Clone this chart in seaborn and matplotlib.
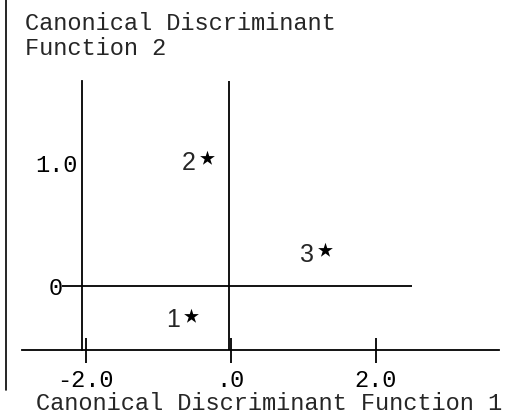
import matplotlib
matplotlib.use("Agg")
import matplotlib.pyplot as plt
from matplotlib.lines import Line2D
import pandas as pd
import seaborn as sns

# group centroids on the two canonical discriminant functions
groups = ['1', '2', '3']
func1 = [-0.55, -0.33, 1.30]
func2 = [-0.24, 1.04, 0.29]

# territorial boundary lines
y_axis_at = -2.05
vline_x = -0.02
zero_line = [-2.32, 2.50]

xticks = [-2.0, 0.0, 2.0]
xtick_labels = ['-2.0', '.0', '2.0']
yticks = [0.0, 1.0]
ytick_labels = ['0', '1.0']

df = pd.DataFrame({'Group': groups, 'Function 1': func1, 'Function 2': func2})

sns.set_style('white')
plt.rcParams['font.family'] = ['Liberation Mono', 'DejaVu Sans Mono']
plt.rcParams['axes.unicode_minus'] = False

fig = plt.figure(figsize=(5.13, 4.19), dpi=100)
ax = fig.add_axes([21.7 / 513, 1 - 350 / 419, 477.3 / 513, 269.3 / 419])

sns.scatterplot(data=df, x='Function 1', y='Function 2', marker='*', s=125,
                color='black', linewidth=0, ax=ax, legend=False)
for g, x, y in zip(groups, func1, func2):
    ax.annotate(g, (x, y), xytext=(-8, -3.5), textcoords='offset points',
                ha='right', va='center', fontsize=18, family='Liberation Sans')

lw = 1.3
ax.axvline(vline_x, color='black', lw=lw)
ax.hlines(0, zero_line[0], zero_line[1], color='black', lw=lw, clip_on=False)

ax.set_xlim(-2.88, 3.703)
ax.set_ylim(-0.519, 1.665)

for s in ['top', 'right']:
    ax.spines[s].set_visible(False)
ax.spines['left'].set_position(('data', y_axis_at))
ax.spines['left'].set_linewidth(lw)
ax.spines['bottom'].set_linewidth(lw)
ax.spines['left'].set_color('black')
ax.spines['bottom'].set_color('black')

ax.set_xticks(xticks, xtick_labels)
ax.set_yticks(yticks, ytick_labels)
ax.tick_params(axis='x', direction='inout', length=18, width=lw, pad=5,
               labelsize=17, colors='black', bottom=True)
ax.tick_params(axis='y', length=0, pad=3.4, labelsize=17, colors='black', left=True)
ax.yaxis.get_major_ticks()[0].set_pad(13.5)

ax.set_xlabel('Canonical Discriminant Function 1', fontsize=17)
ax.xaxis.set_label_coords(0.518, -0.2228)
ax.xaxis.label.set_va('baseline')

ax.set_ylabel('Canonical Discriminant\nFunction 2', fontsize=17, rotation=0,
              ha='left', va='top', linespacing=1.09)
ax.yaxis.set_label_coords(0.0069, 1.255)

# page edge of the scanned figure
fig.add_artist(Line2D([6 / 513, 6 / 513], [1.0, 1 - 390 / 419], color='black', lw=1.2))

fig.savefig('out.png', dpi=100)
